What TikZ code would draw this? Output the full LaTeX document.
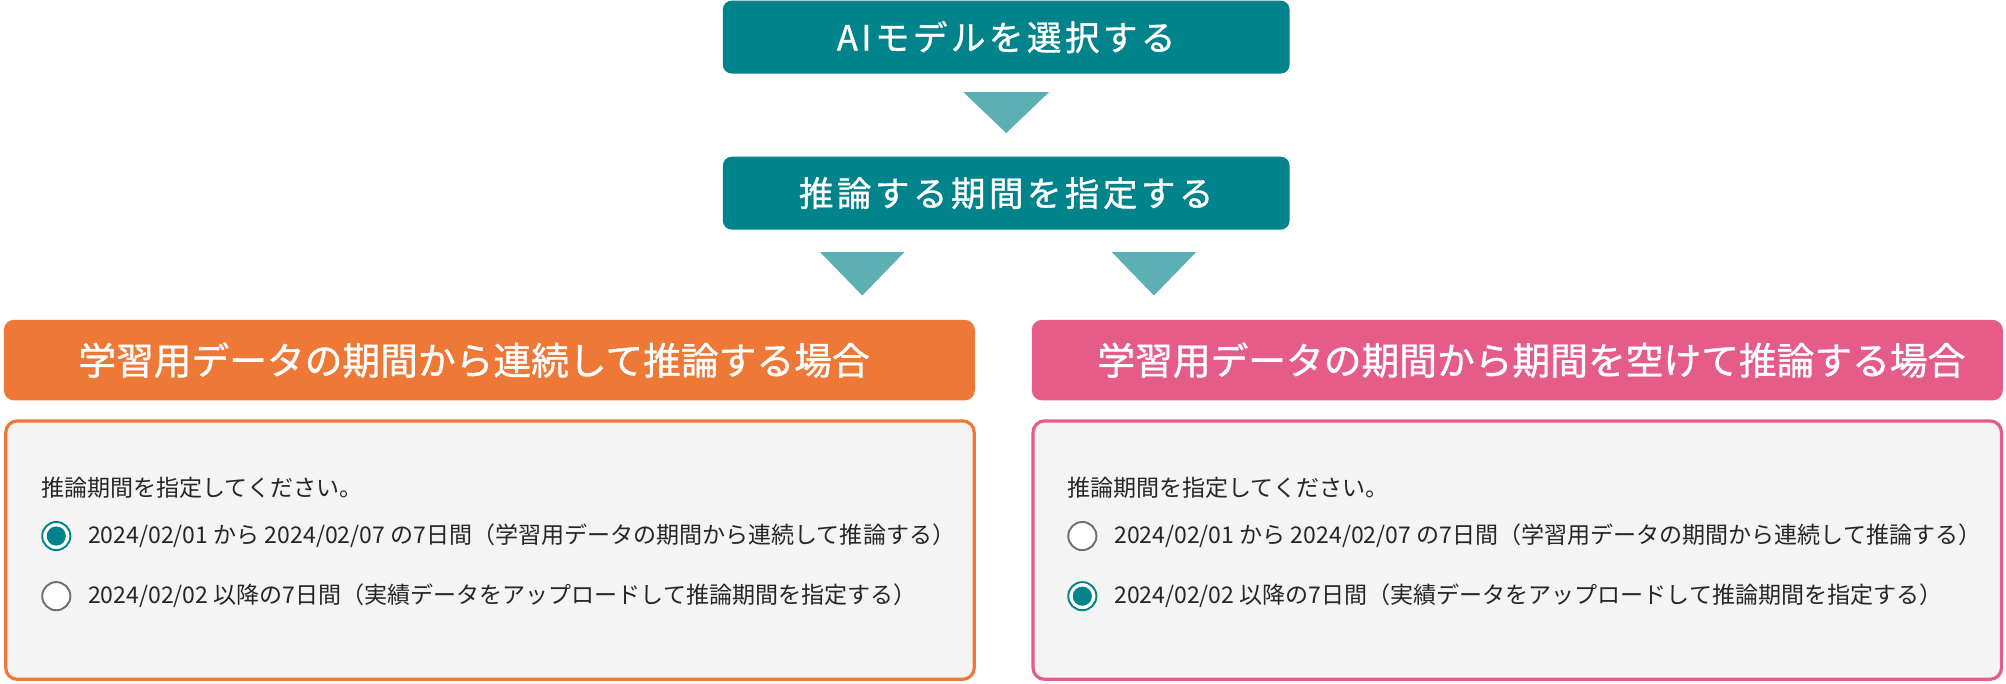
\documentclass[tikz,border=0pt]{standalone}
\usepackage{fontspec}
\newfontfamily\jp{Noto Sans CJK JP}
\newfontfamily\jpmed[FakeBold=1]{Noto Sans CJK JP}
\newfontfamily\jpwide[LetterSpace=10,FakeBold=1]{Noto Sans CJK JP}
\usetikzlibrary{positioning}
\definecolor{tealbox}{RGB}{0,131,138}
\definecolor{tealarrow}{RGB}{92,175,179}
\definecolor{contorange}{RGB}{238,120,54}
\definecolor{gappink}{RGB}{228,92,135}
\definecolor{panelgray}{RGB}{244,244,244}
\definecolor{ringgray}{RGB}{110,110,110}
\tikzset{
  stepbox/.style={rectangle, rounded corners=7pt, fill=tealbox, text=white,
    minimum width=443pt, minimum height=57pt, font=\jpwide\fontsize{27}{32}\selectfont},
  casehead/.style={rectangle, rounded corners=8pt, text=white,
    minimum width=759pt, minimum height=63pt, font=\jpmed\fontsize{29.5}{34}\selectfont},
  casepanel/.style={rectangle, rounded corners=9pt, fill=panelgray, line width=2.5pt,
    minimum width=757pt, minimum height=202pt},
  radiooff/.style={circle, draw=ringgray, line width=1.5pt, fill=white,
    minimum size=22pt, inner sep=0pt},
  radioon/.style={circle, draw=tealbox, line width=1.5pt, fill=white,
    minimum size=22pt, inner sep=0pt, path picture={\fill[tealbox] (path picture bounding box.center) circle (7.5pt);}},
  uitext/.style={anchor=west, inner sep=0pt, font=\jp\fontsize{18}{22}\selectfont, text=black!85},
  downtri/.style={fill=tealarrow}
}
\begin{document}
\begin{tikzpicture}[x=1pt,y=-1pt]
\useasboundingbox (0,0) rectangle (1568,534);

% flow
\node[stepbox] (model) at (786.5,29) {AIモデルを選択する};
\node[stepbox] (period) at (786.5,151) {推論する期間を指定する};

\fill[downtri] (753,72) -- (820,72) -- (786.5,104) -- cycle;
\fill[downtri] (641,197) -- (707,197) -- (674,231) -- cycle;
\fill[downtri] (869,197) -- (935,197) -- (902,231) -- cycle;

% case 1
\node[casehead, fill=contorange] (conthead) at (382.5,281.5) {\hspace*{-24pt}学習用データの期間から連続して推論する場合};
\node[casepanel, draw=contorange] (contpanel) at (383,430) {};
\node[uitext] (contask) at (32,381) {推論期間を指定してください。};
\node[radioon] (contopta) at (44,419) {};
\node[uitext, right=13pt of contopta] (contatext) {2024/02/01 から 2024/02/07 の7日間（学習用データの期間から連続して推論する）};
\node[radiooff] (contoptb) at (44,466) {};
\node[uitext, right=13pt of contoptb] (contbtext) {2024/02/02 以降の7日間（実績データをアップロードして推論期間を指定する）};

% case 2
\node[casehead, fill=gappink] (gaphead) at (1186,281.5) {\hspace*{22pt}学習用データの期間から期間を空けて推論する場合};
\node[casepanel, draw=gappink] (gappanel) at (1186,430) {};
\node[uitext] (gapask) at (834,381) {推論期間を指定してください。};
\node[radiooff] (gapopta) at (846,419) {};
\node[uitext, right=13pt of gapopta] (gapatext) {2024/02/01 から 2024/02/07 の7日間（学習用データの期間から連続して推論する）};
\node[radioon] (gapoptb) at (846,466) {};
\node[uitext, right=13pt of gapoptb] (gapbtext) {2024/02/02 以降の7日間（実績データをアップロードして推論期間を指定する）};

\end{tikzpicture}
\end{document}
